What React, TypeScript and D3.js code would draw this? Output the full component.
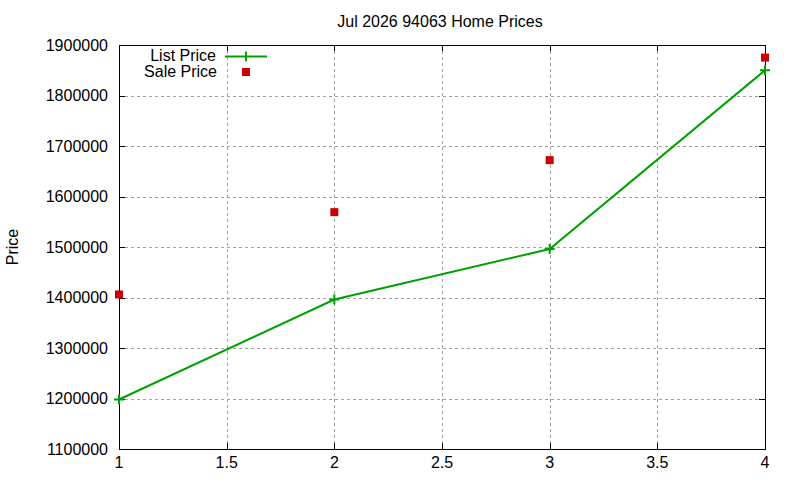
import { useEffect, useRef } from 'react'
import * as d3 from 'd3'

const W = 800
const H = 480
const M = { top: 45, right: 35, bottom: 31, left: 119 }

const xValues = [1, 2, 3, 4]
const listPrice = [1198000, 1396000, 1496000, 1850000]
const salePrice = [1406000, 1569000, 1672000, 1875000]
const xTicks = [1, 1.5, 2, 2.5, 3, 3.5, 4]
const yTicks = [1100000, 1200000, 1300000, 1400000, 1500000, 1600000, 1700000, 1800000, 1900000]

const GREEN = '#00a000'
const RED = '#cc0000'
const FONT = '"Liberation Sans", Arial, sans-serif'

export default function App() {
  const svgRef = useRef<SVGSVGElement>(null)

  useEffect(() => {
    if (!svgRef.current) return
    const svg = d3.select(svgRef.current)
    svg.selectAll('*').remove()

    const x = d3.scaleLinear().domain([1, 4]).range([M.left, W - M.right])
    const y = d3.scaleLinear().domain([1100000, 1900000]).range([H - M.bottom, M.top])
    const [x0, x1] = x.range()
    const [y0, y1] = y.range()

    svg.append('rect').attr('width', W).attr('height', H).attr('fill', '#fff')

    // grid
    const grid = svg.append('g')
      .attr('stroke', '#a0a0a0')
      .attr('stroke-width', 1)
      .attr('stroke-dasharray', '3,3')
    xTicks.slice(1, -1).forEach(t => {
      grid.append('line')
        .attr('x1', Math.round(x(t)) + 0.5).attr('x2', Math.round(x(t)) + 0.5)
        .attr('y1', y1).attr('y2', y0)
    })
    yTicks.slice(1, -1).forEach(t => {
      grid.append('line')
        .attr('x1', x0).attr('x2', x1)
        .attr('y1', Math.round(y(t)) + 0.5).attr('y2', Math.round(y(t)) + 0.5)
    })

    // ticks on all four sides (inward)
    const ticks = svg.append('g').attr('stroke', '#000').attr('stroke-width', 1)
    xTicks.forEach(t => {
      const px = Math.round(x(t)) + 0.5
      ticks.append('line').attr('x1', px).attr('x2', px).attr('y1', y0).attr('y2', y0 - 6)
      ticks.append('line').attr('x1', px).attr('x2', px).attr('y1', y1).attr('y2', y1 + 6)
    })
    yTicks.forEach(t => {
      const py = Math.round(y(t)) + 0.5
      ticks.append('line').attr('x1', x0).attr('x2', x0 + 6).attr('y1', py).attr('y2', py)
      ticks.append('line').attr('x1', x1).attr('x2', x1 - 6).attr('y1', py).attr('y2', py)
    })

    // border
    svg.append('rect')
      .attr('x', x0 + 0.5).attr('y', y1 + 0.5)
      .attr('width', x1 - x0).attr('height', y0 - y1)
      .attr('fill', 'none').attr('stroke', '#000').attr('stroke-width', 1)

    const text = svg.append('g').attr('font-family', FONT).attr('font-size', '16px').attr('fill', '#000')
    xTicks.forEach(t => {
      text.append('text')
        .attr('x', x(t)).attr('y', y0 + 19)
        .attr('text-anchor', 'middle')
        .text(d3.format('~g')(t))
    })
    yTicks.forEach(t => {
      text.append('text')
        .attr('x', x0 - 11).attr('y', y(t) + 5.5)
        .attr('text-anchor', 'end')
        .text(String(t))
    })

    text.append('text')
      .attr('x', 440).attr('y', 27)
      .attr('text-anchor', 'middle')
      .text('Jul 2026 94063 Home Prices')

    text.append('text')
      .attr('transform', `translate(18,${(y0 + y1) / 2}) rotate(-90)`)
      .attr('text-anchor', 'middle')
      .text('Price')

    // list price line
    const line = d3.line<number>()
      .x((_, i) => x(xValues[i]))
      .y(d => y(d))
    svg.append('path')
      .attr('d', line(listPrice) as string)
      .attr('fill', 'none')
      .attr('stroke', GREEN)
      .attr('stroke-width', 2)

    listPrice.forEach((v, i) => {
      const cx = x(xValues[i])
      const cy = y(v)
      svg.append('path')
        .attr('d', `M${cx - 5},${cy}H${cx + 5}M${cx},${cy - 5}V${cy + 5}`)
        .attr('stroke', GREEN).attr('stroke-width', 2)
    })

    salePrice.forEach((v, i) => {
      svg.append('rect')
        .attr('x', x(xValues[i]) - 4).attr('y', y(v) - 4)
        .attr('width', 8).attr('height', 8)
        .attr('fill', RED)
    })

    // legend
    text.append('text').attr('x', 216).attr('y', 61).attr('text-anchor', 'end').text('List Price')
    text.append('text').attr('x', 217).attr('y', 77).attr('text-anchor', 'end').text('Sale Price')
    svg.append('path')
      .attr('d', 'M225,56.5H267M246,51.5V61.5')
      .attr('stroke', GREEN).attr('stroke-width', 2)
    svg.append('rect')
      .attr('x', 242).attr('y', 68).attr('width', 8).attr('height', 8)
      .attr('fill', RED)
  }, [])

  return (
    <svg
      ref={svgRef}
      width={W}
      height={H}
      style={{ position: 'absolute', left: 0, top: 0 }}
    />
  )
}
